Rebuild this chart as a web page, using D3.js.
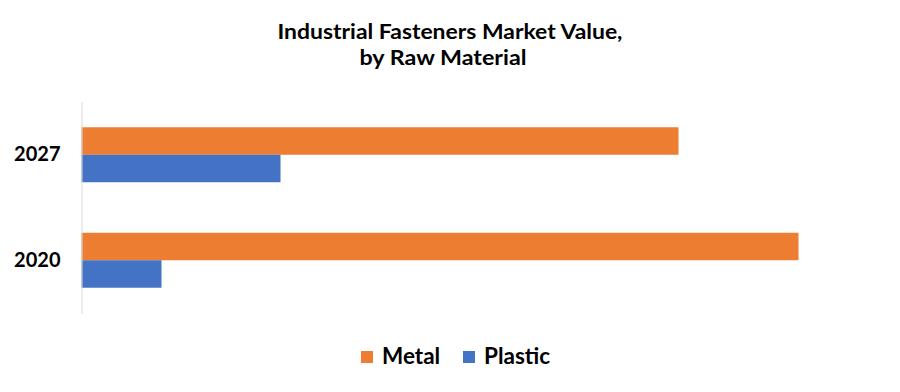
<!DOCTYPE html>
<html>
<head>
<meta charset="utf-8">
<script src="https://cdn.jsdelivr.net/npm/d3@7"></script>
<style>
  html, body { margin: 0; padding: 0; background: #fff; }
  svg { display: block; }
  text { font-family: Lato, "Open Sans", sans-serif; font-weight: bold; fill: #000; }
</style>
</head>
<body>
<script>
const categories = ["2027", "2020"];
const seriesNames = ["Metal", "Plastic"];
const metalValues = [59.7, 71.7];
const plasticValues = [19.9, 8.0];
const colors = ["#ED7D31", "#4472C4"];
const titleLines = ["Industrial Fasteners Market Value,", "by Raw Material"];

const W = 900, H = 392;
const svg = d3.select("body").append("svg").attr("width", W).attr("height", H);

const x = d3.scaleLinear().domain([0, 80]).range([81.5, 881.5]);
const y = d3.scaleBand().domain(categories).range([102, 313]).paddingInner(0.479).paddingOuter(0.2395);
const ySub = d3.scaleBand().domain(seriesNames).range([0, y.bandwidth()]);

// title
const t1 = svg.append("text").attr("x", 450).attr("y", 39).attr("text-anchor", "middle")
  .style("font-size", "20px").text(titleLines[0]);
const t2 = svg.append("text").attr("x", 443).attr("y", 65).attr("text-anchor", "middle")
  .style("font-size", "20px").text(titleLines[1]);
// fit title widths to reference extents
t1.attr("textLength", 345).attr("lengthAdjust", "spacingAndGlyphs");
t2.attr("textLength", 167).attr("lengthAdjust", "spacingAndGlyphs");

const data = categories.map((c, i) => ({ cat: c, values: [metalValues[i], plasticValues[i]] }));

const groups = svg.append("g").selectAll("g").data(data).join("g")
  .attr("transform", d => `translate(0,${y(d.cat)})`);
groups.selectAll("rect").data(d => d.values.map((v, j) => ({ v, s: seriesNames[j], j })))
  .join("rect")
  .attr("x", x(0))
  .attr("y", d => ySub(d.s))
  .attr("width", d => x(d.v) - x(0))
  .attr("height", ySub.bandwidth())
  .attr("fill", d => colors[d.j]);

// axis
const yAxis = d3.axisLeft(y).tickSize(0).tickPadding(21);
const ax = svg.append("g").attr("transform", `translate(${x(0)},0)`).call(yAxis);
ax.select(".domain").attr("stroke", "#d9d9d9").attr("stroke-width", 1);
ax.selectAll("text").style("font-size", "20px").style("font-family", "Lato, sans-serif").style("font-weight", "bold").attr("fill", "#000");

// legend
const legend = svg.append("g");
const legendX = [361, 463];
seriesNames.forEach((s, i) => {
  legend.append("rect").attr("x", legendX[i]).attr("y", 351).attr("width", 12).attr("height", 12).attr("fill", colors[i]);
  legend.append("text").attr("x", legendX[i] + 21).attr("y", 364).style("font-size", "22.5px").text(s);
});
</script>
</body>
</html>
